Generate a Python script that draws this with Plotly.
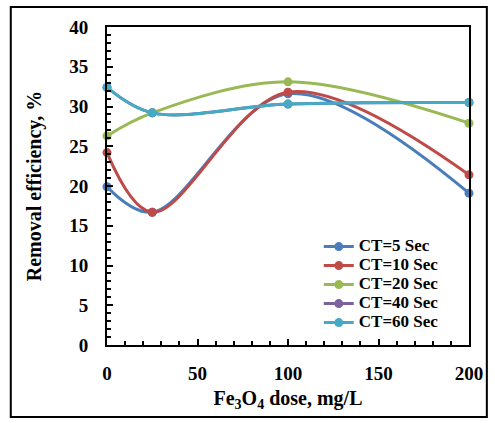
import plotly.graph_objects as go

dose = [0, 25, 100, 200]
ct5 = [19.9, 16.7, 31.6, 19.1]
ct10 = [24.2, 16.7, 31.8, 21.4]
ct20 = [26.3, 29.2, 33.1, 27.9]
ct40 = [32.4, 29.2, 30.3, 30.5]
ct60 = [32.4, 29.2, 30.3, 30.5]

series = [
    ("CT=5 Sec", ct5, "#4A7EBB"),
    ("CT=10 Sec", ct10, "#BE4B48"),
    ("CT=20 Sec", ct20, "#98B954"),
    ("CT=40 Sec", ct40, "#7D60A0"),
    ("CT=60 Sec", ct60, "#46AAC5"),
]

fig = go.Figure()
for name, vals, col in series:
    fig.add_trace(go.Scatter(
        x=dose, y=vals, name='<span style="font-size:17px">' + name + '</span>',
        mode="lines+markers",
        line=dict(color=col, width=3, shape="spline", smoothing=1.0),
        marker=dict(color=col, size=9, symbol="circle"),
        cliponaxis=False,
    ))

font = "Liberation Serif, Times New Roman, serif"
fig.update_layout(
    width=495, height=423,
    margin=dict(l=107, r=23, t=27, b=78),
    paper_bgcolor="white", plot_bgcolor="white",
    font=dict(family=font, color="black"),
    showlegend=True,
    legend=dict(
        x=0.585, y=0.355, xanchor="left", yanchor="top",
        bgcolor="rgba(0,0,0,0)",
        font=dict(family=font, size=12, color="black", weight="bold"),
        tracegroupgap=0, itemwidth=30,
    ),
    xaxis=dict(
        range=[0, 200], tickvals=[0, 50, 100, 150, 200],
        showgrid=False, zeroline=False,
        showline=True, linecolor="black", linewidth=2, mirror=True,
        ticks="inside", ticklen=6, tickwidth=2, tickcolor="black",
        minor=dict(dtick=10, ticks="inside", ticklen=4, tickwidth=2, tickcolor="black"),
        tickfont=dict(family=font, size=19, color="black", weight="bold"),
        ticklabelstandoff=10,
        title=dict(text="Fe<sub>3</sub>O<sub>4</sub> dose, mg/L",
                   font=dict(family=font, size=20, color="black", weight="bold"),
                   standoff=8),
    ),
    yaxis=dict(
        range=[0, 40], tickvals=[0, 5, 10, 15, 20, 25, 30, 35, 40],
        showgrid=False, zeroline=False,
        showline=True, linecolor="black", linewidth=2, mirror=True,
        ticks="inside", ticklen=6, tickwidth=2, tickcolor="black",
        minor=dict(dtick=1, ticks="inside", ticklen=4, tickwidth=2, tickcolor="black"),
        tickfont=dict(family=font, size=19, color="black", weight="bold"),
        ticklabelstandoff=13,
        title=dict(text="Removal efficiency, %",
                   font=dict(family=font, size=20, color="black", weight="bold"),
                   standoff=22),
    ),
    shapes=[dict(type="rect", xref="paper", yref="paper",
                 x0=-0.2658, x1=1.0493, y0=-0.2264, y1=1.0629,
                 line=dict(color="black", width=2), layer="below")],
)

fig.write_html("out.html")
